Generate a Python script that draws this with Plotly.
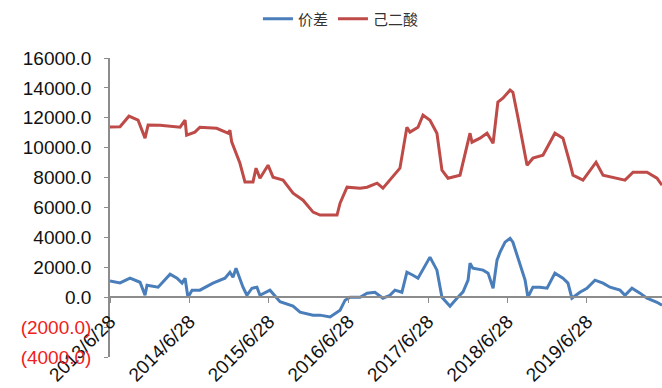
import plotly.graph_objects as go

# ---- data ----
adipic_dates = [
    "2013-06-28", "2013-08-13", "2013-09-23", "2013-11-04", "2013-12-06", "2013-12-20",
    "2014-02-13", "2014-05-16", "2014-06-08", "2014-06-15", "2014-07-23", "2014-08-15",
    "2014-10-31", "2014-12-22", "2014-12-31", "2015-01-08", "2015-02-15", "2015-03-10",
    "2015-04-16", "2015-04-30", "2015-05-18", "2015-06-24", "2015-07-17", "2015-09-01",
    "2015-10-17", "2015-12-02", "2016-01-17", "2016-02-18", "2016-05-06", "2016-05-20",
    "2016-06-21", "2016-08-20", "2016-09-21", "2016-11-06", "2016-12-03", "2017-01-04",
    "2017-02-19", "2017-03-23", "2017-04-06", "2017-05-13", "2017-06-05", "2017-07-07",
    "2017-08-08", "2017-08-31", "2017-09-28", "2017-11-22", "2018-01-07", "2018-01-16",
    "2018-02-22", "2018-03-26", "2018-04-23", "2018-05-15", "2018-06-07", "2018-07-10",
    "2018-07-23", "2018-08-15", "2018-09-26", "2018-10-23", "2018-12-08", "2019-02-01",
    "2019-03-10", "2019-04-11", "2019-04-25", "2019-06-10", "2019-07-21", "2019-08-09",
    "2019-09-10", "2019-11-13", "2019-12-20", "2020-01-26", "2020-03-30", "2020-05-15",
    "2020-06-07",
]
adipic_vals = [
    11390, 11400, 12110, 11840, 10640, 11510,
    11500, 11370, 11840, 10840, 11040, 11370,
    11300, 10970, 11170, 10390, 8960, 7710,
    7710, 8630, 7960, 8830, 8030, 7830,
    6960, 6490, 5690, 5490, 5490, 6290,
    7360, 7290, 7360, 7630, 7290, 7830,
    8630, 11370, 11040, 11370, 12180, 11840,
    10970, 8500, 7960, 8160, 10970, 10370,
    10640, 10970, 10300, 13050, 13310, 13850,
    13710, 12040, 8830, 9300, 9500, 10970,
    10640, 8960, 8160, 7830, 8630, 9030,
    8160, 7960, 7830, 8360, 8360, 7960,
    7490,
]

spread_dates = [
    "2013-06-28", "2013-08-13", "2013-09-28", "2013-11-13", "2013-12-06", "2013-12-15",
    "2014-02-04", "2014-03-31", "2014-05-02", "2014-05-25", "2014-06-08", "2014-06-21",
    "2014-07-10", "2014-08-15", "2014-10-14", "2014-12-08", "2014-12-31", "2015-01-14",
    "2015-01-28", "2015-03-01", "2015-03-19", "2015-04-11", "2015-05-04", "2015-05-18",
    "2015-07-03", "2015-08-18", "2015-10-17", "2015-11-18", "2016-01-17", "2016-02-18",
    "2016-04-04", "2016-05-20", "2016-06-12", "2016-07-05", "2016-08-20", "2016-09-21",
    "2016-10-27", "2016-12-03", "2017-01-04", "2017-01-27", "2017-02-28", "2017-03-23",
    "2017-04-20", "2017-05-13", "2017-07-07", "2017-08-08", "2017-08-31", "2017-10-07",
    "2017-11-08", "2017-12-06", "2017-12-29", "2018-01-07", "2018-01-20", "2018-03-08",
    "2018-03-31", "2018-04-23", "2018-05-11", "2018-05-25", "2018-06-17", "2018-07-10",
    "2018-07-23", "2018-08-15", "2018-09-17", "2018-09-30", "2018-10-23", "2018-11-24",
    "2018-12-27", "2019-02-01", "2019-03-10", "2019-04-02", "2019-04-20", "2019-05-27",
    "2019-06-28", "2019-08-04", "2019-09-10", "2019-10-12", "2019-11-27", "2019-12-20",
    "2020-01-21", "2020-02-27", "2020-03-30", "2020-05-15", "2020-06-07",
]
spread_vals = [
    1090, 960, 1270, 1000, 130, 800,
    670, 1540, 1270, 940, 1270, 0,
    470, 470, 940, 1270, 1670, 1340,
    1940, 670, 130, 600, 670, 130,
    470, -300, -600, -1000, -1200, -1200,
    -1320, -870, -200, 0, 0, 270,
    330, -70, 130, 470, 330, 1670,
    1470, 1270, 2680, 1810, 0, -600,
    -70, 360, 1140, 2270, 1940, 1810,
    1610, 600, 2480, 3010, 3680, 3940,
    3680, 2680, 1140, 0, 670, 670,
    600, 1610, 1270, 940, -70, 330,
    600, 1140, 940, 670, 470, 130,
    600, 270, -70, -340, -540,
]

y_tickvals = [16000, 14000, 12000, 10000, 8000, 6000, 4000, 2000, 0, -2000, -4000]
x_tickvals = ["2013-06-28", "2014-06-28", "2015-06-28", "2016-06-28",
              "2017-06-28", "2018-06-28", "2019-06-28"]
x_ticktext = ["2013/6/28", "2014/6/28", "2015/6/28", "2016/6/28",
              "2017/6/28", "2018/6/28", "2019/6/28"]


def fmt(v):
    if v >= 0:
        return f"{v:.1f}"
    return f"<span style='color:#f02020'>({-v:.1f})</span>"


y_ticktext = [fmt(v) for v in y_tickvals]

BLUE = "#4a7ebb"
RED = "#be4b48"

fig = go.Figure()
fig.add_trace(go.Scatter(x=spread_dates, y=spread_vals, name="价差", mode="lines",
                         line=dict(color=BLUE, width=3)))
fig.add_trace(go.Scatter(x=adipic_dates, y=adipic_vals, name="己二酸", mode="lines",
                         line=dict(color=RED, width=3)))

fig.update_layout(
    width=662, height=388,
    margin=dict(l=110, r=0, t=58, b=31),
    paper_bgcolor="white", plot_bgcolor="white",
    font=dict(family="Liberation Sans, Arial, sans-serif", size=19, color="#111111"),
    showlegend=True,
    legend=dict(orientation="h", xref="container", yref="container",
                x=0.515, xanchor="center", y=1 - 19 / 388, yanchor="middle",
                font=dict(family="Noto Sans CJK SC", size=15, color="#333333"),
                itemwidth=30, bgcolor="rgba(0,0,0,0)"),
    xaxis=dict(
        type="date",
        range=["2013-06-28", "2020-06-07"],
        anchor="free", position=0.2,
        tickmode="array", tickvals=x_tickvals, ticktext=x_ticktext,
        tickangle=-45,
        showline=True, linecolor="#8c8c8c", linewidth=1.5,
        ticks="outside", ticklen=5, tickcolor="#8c8c8c",
        showgrid=False, zeroline=False,
    ),
    yaxis=dict(
        range=[-4000, 16000],
        tickmode="array", tickvals=y_tickvals, ticktext=y_ticktext,
        showline=True, linecolor="#8c8c8c", linewidth=1.5,
        ticks="outside", ticklen=4, tickcolor="#8c8c8c",
        ticklabelstandoff=9,
        showgrid=False, zeroline=False,
    ),
)

fig.write_html("out.html")
